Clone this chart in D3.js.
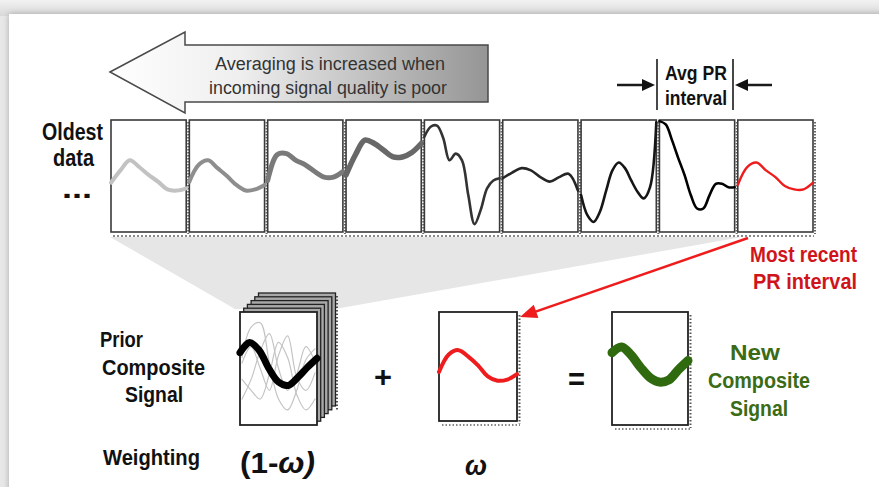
<!DOCTYPE html>
<html>
<head>
<meta charset="UTF-8" />
<title>Composite signal averaging</title>
<style>
  body { margin: 0; background: #e8e8e8; }
  text { font-family: "Liberation Sans", Arial, sans-serif; }
</style>
</head>
<body>
<script src="https://d3js.org/d3.v7.min.js"></script>
<script>
// amplitude of each PR interval, 0 = box bottom, 100 = box top (oldest -> newest)
var wave1 = [44, 55, 64, 58, 51, 45, 38, 37, 39];
var wave2 = [45, 60, 64, 57, 50, 42, 37, 38, 42];
var wave3 = [46, 69, 70, 64, 60, 54, 49, 49, 54];
var wave4 = [51, 69, 82, 79, 73, 67, 67, 71, 79];
var wave5 = [85, 94, 95, 84, 64, 70, 64, 33, 7, 20, 39, 46, 48];
var wave6 = [48, 53, 57, 55, 49, 45, 49, 52, 37];
var wave7 = [33, 15, 9, 18, 37, 55, 62, 57, 46, 36, 30, 40, 98];
var wave8 = [99, 96, 82, 66, 51, 33, 21, 21, 33, 43, 43, 40, 40];
var wave9 = [42, 58, 62, 55, 49, 41, 38, 38, 44];

var priorWave = [64, 73, 66, 50, 38, 35, 42, 51, 59];
var omegaWave = [45, 61, 65, 59, 51, 41, 37, 38, 43];
var newWave = [64, 69, 62, 51, 42, 38, 40, 49, 57];
var ghost1 = [60, 88, 92, 55, 22, 12, 30, 58, 68];
var ghost2 = [40, 30, 22, 45, 74, 60, 26, 12, 22];
var ghost3 = [55, 70, 50, 30, 62, 80, 42, 30, 46];
var ghost4 = [22, 40, 66, 82, 50, 30, 45, 70, 56];

var stripWaves = [wave1, wave2, wave3, wave4, wave5, wave6, wave7, wave8, wave9];

var W = 879, H = 487;
var svg = d3.select("body").append("svg")
    .attr("width", W).attr("height", H);

var defs = svg.append("defs");
var grad = defs.append("linearGradient").attr("id", "arrowFill")
    .attr("x1", "0%").attr("x2", "100%").attr("y1", "0%").attr("y2", "0%");
grad.append("stop").attr("offset", "0%").attr("stop-color", "#ffffff");
grad.append("stop").attr("offset", "35%").attr("stop-color", "#eeeeee");
grad.append("stop").attr("offset", "100%").attr("stop-color", "#959595");
var topGrad = defs.append("linearGradient").attr("id", "topBand")
    .attr("x1", "0").attr("x2", "0").attr("y1", "0").attr("y2", "1");
topGrad.append("stop").attr("offset", "0%").attr("stop-color", "#f2f2f2");
topGrad.append("stop").attr("offset", "100%").attr("stop-color", "#d9d9d9");
var shadow = defs.append("filter").attr("id", "shadow")
    .attr("x", "-5%").attr("y", "-5%").attr("width", "110%").attr("height", "110%");
shadow.append("feDropShadow").attr("dx", 0).attr("dy", 0)
    .attr("stdDeviation", 3).attr("flood-color", "#999").attr("flood-opacity", 0.8);

// page frame
svg.append("rect").attr("width", W).attr("height", 16).attr("fill", "url(#topBand)");
svg.append("rect").attr("x", 9).attr("y", 14).attr("width", W).attr("height", H)
    .attr("fill", "#fff").attr("filter", "url(#shadow)");

// gray wedge that funnels the strip into the prior composite
svg.append("path")
    .attr("d", "M110,237L742,237L335,309L235,309Z")
    .attr("fill", "#e6e6e6");

// big "averaging" arrow
svg.append("path")
    .attr("d", "M110,72L185,32L185,45L488,45L488,102L185,102L185,113Z")
    .attr("fill", "url(#arrowFill)")
    .attr("stroke", "#4a4a4a").attr("stroke-width", 1.5);

function label(txt, x, y, len, size, opts) {
    opts = opts || {};
    return svg.append("text")
        .attr("x", x).attr("y", y)
        .attr("font-size", size)
        .attr("font-weight", opts.weight || "bold")
        .attr("font-style", opts.style || null)
        .attr("fill", opts.fill || "#111")
        .attr("textLength", len)
        .attr("lengthAdjust", "spacingAndGlyphs")
        .text(txt);
}

label("Averaging is increased when", 215, 70, 230, 18, { weight: "normal", fill: "#333" });
label("incoming signal quality is poor", 209, 94, 238, 18, { weight: "normal", fill: "#333" });
label("Oldest", 42, 140, 61, 23);
label("data", 53, 166, 41, 23);
label("...", 62, 198, 30, 28);

// strip of PR interval boxes
var top0 = 120, bot0 = 232;
var band = d3.scaleBand().domain(d3.range(stripWaves.length))
    .range([111, 813]).paddingInner(0.04);
var yStrip = d3.scaleLinear().domain([0, 100]).range([bot0, top0]);

var stripColors = ["#c2c2c2", "#8e8e8e", "#7a7a7a", "#686868", "#333", "#262626", "#161616", "#000", "#ee1c1c"];
var stripWidths = [4, 4, 5, 5.5, 2.6, 2.6, 2.6, 2.6, 2.4];

var boxes = svg.append("g");
stripWaves.forEach(function(w, i) {
    var x0 = band(i), x1 = band(i) + band.bandwidth();
    var g = boxes.append("g");
    g.append("rect")
        .attr("x", x0).attr("y", top0)
        .attr("width", x1 - x0).attr("height", bot0 - top0)
        .attr("fill", "#fff").attr("stroke", "#3a3a3a").attr("stroke-width", 1.6);
    g.append("line")
        .attr("x1", x1 + 2).attr("x2", x1 + 2).attr("y1", top0 + 2).attr("y2", bot0 + 2)
        .attr("stroke", "#666").attr("stroke-width", 2).attr("stroke-dasharray", "1.5,1.5");
    var xs = d3.scaleLinear().domain([0, w.length - 1]).range([x0, x1]);
    g.append("path")
        .datum(w)
        .attr("fill", "none")
        .attr("stroke", stripColors[i])
        .attr("stroke-width", stripWidths[i])
        .attr("stroke-linecap", "round")
        .attr("stroke-linejoin", "round")
        .attr("d", d3.line()
            .x(function(d, j) { return xs(j); })
            .y(function(d) { return yStrip(d); })
            .curve(d3.curveCatmullRom));
});
svg.append("line")
    .attr("x1", 113).attr("x2", 814).attr("y1", 236).attr("y2", 236)
    .attr("stroke", "#8a8a8a").attr("stroke-width", 2).attr("stroke-dasharray", "2,2");

// Avg PR interval marker
var ap = svg.append("g").attr("stroke", "#1a1a1a").attr("stroke-width", 1.6);
ap.append("line").attr("x1", 657).attr("x2", 657).attr("y1", 59).attr("y2", 110);
ap.append("line").attr("x1", 733).attr("x2", 733).attr("y1", 59).attr("y2", 110);
ap.append("line").attr("x1", 617).attr("x2", 645).attr("y1", 85).attr("y2", 85).attr("stroke-width", 2.5);
ap.append("line").attr("x1", 745).attr("x2", 772).attr("y1", 85).attr("y2", 85).attr("stroke-width", 2.5);
svg.append("path").attr("d", "M655,85L642,79L642,91Z").attr("fill", "#111");
svg.append("path").attr("d", "M735,85L748,79L748,91Z").attr("fill", "#111");
label("Avg PR", 665, 80, 62, 21);
label("interval", 665, 105, 62, 21);

// red arrow from newest interval down to the omega box
var ax0 = 748, ay0 = 238, ax1 = 520, ay1 = 317;
var dx = ax1 - ax0, dy = ay1 - ay0, dl = Math.sqrt(dx * dx + dy * dy);
var ux = dx / dl, uy = dy / dl;
svg.append("line")
    .attr("x1", ax0).attr("y1", ay0)
    .attr("x2", ax1 - ux * 12).attr("y2", ay1 - uy * 12)
    .attr("stroke", "#ee1c1c").attr("stroke-width", 2.5);
svg.append("path")
    .attr("d", "M" + ax1 + "," + ay1 +
        "L" + (ax1 - ux * 17 - uy * 7) + "," + (ay1 - uy * 17 + ux * 7) +
        "L" + (ax1 - ux * 17 + uy * 7) + "," + (ay1 - uy * 17 - ux * 7) + "Z")
    .attr("fill", "#ee1c1c");
label("Most recent", 750, 262, 107, 22, { fill: "#d0141b" });
label("PR interval", 753, 289, 104, 22, { fill: "#d0141b" });

// small signal box helper
function signalBox(w, x0, x1, yTop, yBot, color, width) {
    var xs = d3.scaleLinear().domain([0, w.length - 1]).range([x0, x1]);
    var ys = d3.scaleLinear().domain([0, 100]).range([yBot, yTop]);
    return svg.append("path")
        .datum(w)
        .attr("fill", "none")
        .attr("stroke", color)
        .attr("stroke-width", width)
        .attr("stroke-linecap", "round")
        .attr("stroke-linejoin", "round")
        .attr("d", d3.line()
            .x(function(d, j) { return xs(j); })
            .y(function(d) { return ys(d); })
            .curve(d3.curveCatmullRom));
}

function frame(x0, x1, yTop, yBot) {
    svg.append("rect")
        .attr("x", x0).attr("y", yTop).attr("width", x1 - x0).attr("height", yBot - yTop)
        .attr("fill", "#fff").attr("stroke", "#222").attr("stroke-width", 1.8);
    svg.append("line")
        .attr("x1", x1 + 2.5).attr("x2", x1 + 2.5).attr("y1", yTop + 3).attr("y2", yBot + 3)
        .attr("stroke", "#555").attr("stroke-width", 2).attr("stroke-dasharray", "1.5,2");
    svg.append("line")
        .attr("x1", x0 + 3).attr("x2", x1 + 3).attr("y1", yBot + 4).attr("y2", yBot + 4)
        .attr("stroke", "#888").attr("stroke-width", 2).attr("stroke-dasharray", "1.5,2");
}

// prior composite stack
var stack = d3.range(5, 0, -1);
svg.append("line")
    .attr("x1", 337).attr("x2", 337).attr("y1", 296).attr("y2", 410)
    .attr("stroke", "#555").attr("stroke-width", 2).attr("stroke-dasharray", "1.5,2");
stack.forEach(function(k) {
    svg.append("rect")
        .attr("x", 240 + k * 3.7).attr("y", 312 - k * 3.8)
        .attr("width", 77).attr("height", 113)
        .attr("fill", "#a8a8a8").attr("stroke", "#222").attr("stroke-width", 1.3);
});
svg.append("rect")
    .attr("x", 240).attr("y", 312).attr("width", 77).attr("height", 113)
    .attr("fill", "#fff").attr("stroke", "#222").attr("stroke-width", 1.8);
[ghost1, ghost2, ghost3, ghost4].forEach(function(g) {
    signalBox(g, 242, 315, 314, 423, "#c4c4c4", 1.2);
});
signalBox(priorWave, 240, 317, 312, 425, "#000", 7);

label("Prior", 100, 347, 43, 22);
label("Composite", 102, 375, 103, 22);
label("Signal", 125, 402, 58, 22);
label("+", 374, 387, 18, 30);

// omega box
frame(439, 517, 312, 421);
signalBox(omegaWave, 439, 517, 312, 421, "#ee1c1c", 4);
label("=", 568, 390, 17, 32);

// new composite box
frame(612, 688, 312, 425);
signalBox(newWave, 612, 688, 312, 425, "#2f6a0e", 9);
label("New", 730, 360, 50, 22, { fill: "#3b6b14" });
label("Composite", 708, 388, 102, 22, { fill: "#3b6b14" });
label("Signal", 730, 416, 58, 22, { fill: "#3b6b14" });

// weighting row
label("Weighting", 103, 465, 97, 22);
var w1 = svg.append("text")
    .attr("x", 240).attr("y", 473)
    .attr("font-size", 30).attr("font-weight", "bold").attr("fill", "#111")
    .attr("textLength", 75).attr("lengthAdjust", "spacingAndGlyphs");
w1.append("tspan").text("(1-");
w1.append("tspan").attr("font-style", "italic").text("\u03c9)");
label("\u03c9", 465, 475, 22, 28, { style: "italic" });
</script>
</body>
</html>
